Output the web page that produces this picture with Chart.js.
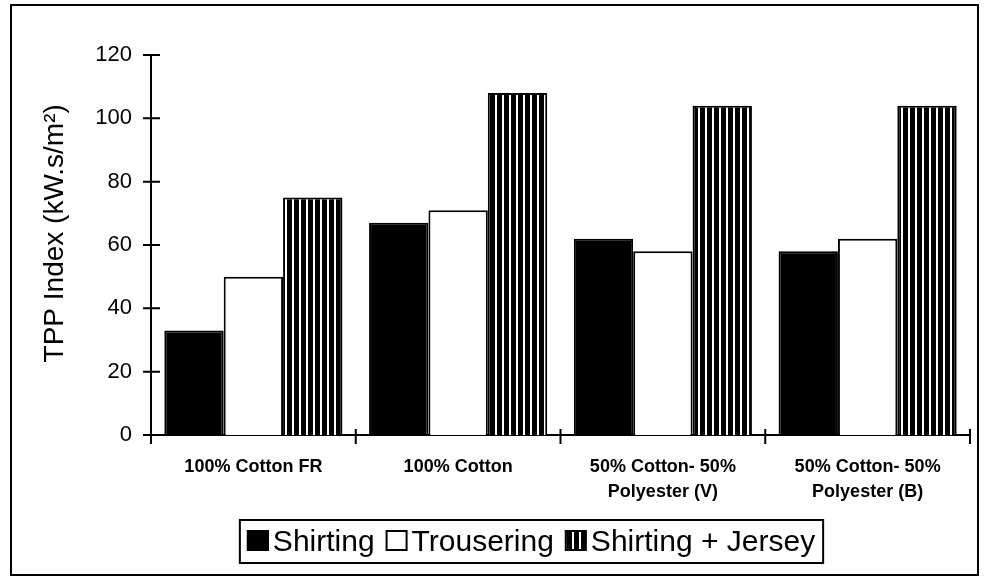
<!DOCTYPE html>
<html>
<head>
<meta charset="utf-8">
<script src="https://cdn.jsdelivr.net/npm/chart.js@4/dist/chart.umd.min.js"></script>
<style>
  html, body { margin: 0; padding: 0; background: #fff; }
  #wrap { width: 988px; height: 582px; }
</style>
</head>
<body>
<div id="wrap"><canvas id="chartTPP"></canvas></div>
<script>
// data
const kategori = [
  "100% Cotton FR",
  "100% Cotton",
  ["50% Cotton- 50%", "Polyester (V)"],
  ["50% Cotton- 50%", "Polyester (B)"]
];
const shirting = [33, 67, 62, 58];
const trousering = [50, 71, 58, 62];
const shirtingJersey = [75, 108, 104, 104];
const namaSeri = ["Shirting", "Trousering", "Shirting + Jersey"];
const judulY = "   TPP Index (kW.s/m\u00b2)";

const FONT = "'Liberation Sans', Arial, sans-serif";

// vertical stripes fill
function garis() {
  const c = document.createElement("canvas");
  c.width = 7; c.height = 7;
  const g = c.getContext("2d");
  g.fillStyle = "#000"; g.fillRect(0, 0, 7, 7);
  g.fillStyle = "#fff"; g.fillRect(5, 0, 2, 7);
  return g.createPattern(c, "repeat");
}
const pola = garis();
const isian = ["#000", "#fff", pola];

// frame + white background
const bingkai = {
  id: "bingkai",
  beforeDraw(chart) {
    const ctx = chart.ctx;
    ctx.save();
    ctx.fillStyle = "#fff";
    ctx.fillRect(0, 0, chart.width, chart.height);
    ctx.restore();
  },
  afterDraw(chart) {
    const ctx = chart.ctx;
    ctx.save();
    ctx.strokeStyle = "#000";
    ctx.lineWidth = 2;
    ctx.strokeRect(11, 5, 967, 570);
    ctx.restore();
  }
};

// tick marks crossing the axes
const tanda = {
  id: "tanda",
  afterDatasetsDraw(chart) {
    const { ctx, chartArea, scales: { x, y } } = chart;
    ctx.save();
    ctx.strokeStyle = "#000";
    ctx.lineWidth = 2;
    ctx.beginPath();
    y.ticks.forEach((t, i) => {
      const py = y.getPixelForTick(i);
      ctx.moveTo(chartArea.left - 8, py);
      ctx.lineTo(chartArea.left + 9, py);
    });
    for (let i = 0; i <= kategori.length; i++) {
      const px = x.getPixelForValue(i - 0.5);
      ctx.moveTo(px, chartArea.bottom - 6);
      ctx.lineTo(px, chartArea.bottom + 9);
    }
    ctx.stroke();
    ctx.restore();
  }
};

// boxed legend under the axis
const legenda = {
  id: "legenda",
  afterDraw(chart) {
    const ctx = chart.ctx;
    ctx.save();
    ctx.font = "30px " + FONT;
    ctx.textBaseline = "alphabetic";
    const kotak = 22, jarak1 = 4, jarak2 = 11;
    const lebar = namaSeri.map(n => ctx.measureText(n).width);
    let total = 0;
    lebar.forEach((w, i) => { total += kotak + jarak1 + w + (i < lebar.length - 1 ? jarak2 : 0); });
    let x = 531 - total / 2;
    const x0 = x;
    const yTop = 530;
    chart.data.datasets.forEach((ds, i) => {
      ctx.fillStyle = ds.backgroundColor;
      ctx.fillRect(x, yTop, kotak, 21);
      ctx.strokeStyle = "#000";
      ctx.lineWidth = 2;
      ctx.strokeRect(x + 1, yTop + 1, kotak - 2, 19);
      ctx.fillStyle = "#000";
      ctx.fillText(ds.label, x + kotak + jarak1, yTop + 21);
      x += kotak + jarak1 + lebar[i] + jarak2;
    });
    ctx.lineWidth = 2;
    ctx.strokeRect(x0 - 7, 520, total + 15, 43);
    ctx.restore();
  }
};

new Chart(document.getElementById("chartTPP"), {
  type: "bar",
  data: {
    labels: kategori,
    datasets: namaSeri.map((n, i) => ({
      label: n,
      data: [shirting, trousering, shirtingJersey][i],
      backgroundColor: isian[i],
      borderColor: "#000",
      borderWidth: 2,
      borderSkipped: "bottom",
      categoryPercentage: 0.87,
      barPercentage: 1.0
    }))
  },
  options: {
    responsive: true,
    maintainAspectRatio: false,
    animation: false,
    layout: { padding: { left: 0, top: 55, right: 18, bottom: 62 } },
    plugins: { legend: { display: false }, tooltip: { enabled: false } },
    scales: {
      x: {
        grid: { display: false, drawTicks: false },
        border: { display: true, color: "#000", width: 2 },
        ticks: {
          color: "#000",
          padding: 19,
          maxRotation: 0,
          autoSkip: false,
          font: { family: FONT, size: 18, weight: "bold", lineHeight: 1.4 }
        },
        afterFit(s) { s.height = 85; }
      },
      y: {
        min: 0,
        max: 120,
        ticks: {
          stepSize: 20,
          color: "#000",
          padding: 19,
          font: { family: FONT, size: 22 }
        },
        grid: { display: false, drawTicks: false },
        border: { display: true, color: "#000", width: 2 },
        title: {
          display: true,
          text: judulY,
          color: "#000",
          padding: { top: 38, bottom: 0 },
          font: { family: FONT, size: 28 }
        },
        afterFit(s) { s.width = 151; }
      }
    }
  },
  plugins: [bingkai, tanda, legenda]
});
</script>
</body>
</html>
